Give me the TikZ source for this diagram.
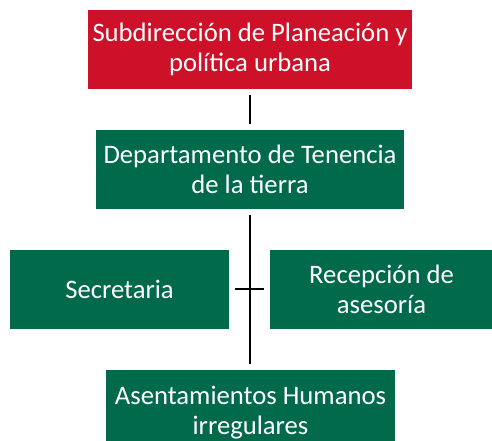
\documentclass[tikz,border=0pt]{standalone}
\usepackage{fontspec}
\setmainfont{Carlito}
\usepackage{xcolor}
\usetikzlibrary{positioning}
\definecolor{rojo}{HTML}{CC1128}
\definecolor{verde}{HTML}{006A4A}
\tikzset{
	box/.style={rectangle,fill=verde,text=white,align=center,inner sep=0pt,
		font=\fontsize{20}{22.5}\selectfont},
	top box/.style={box,fill=rojo},
	link/.style={line width=1.5pt,shorten >=4.5pt,shorten <=4.5pt}
}
\begin{document}
\begin{tikzpicture}[x=0.75pt,y=-0.75pt]
		\useasboundingbox (0,0) rectangle (492,441);
		\node [top box,minimum width=243pt,minimum height=59.25pt] (subdir) at (250,49.5)
			{Subdirección de Planeación y\\política urbana};
		\node [box,minimum width=231pt,minimum height=59.25pt] (tenencia) at (250,169.5)
			{Departamento de Tenencia\\de la tierra};
		\node [box,minimum width=164.25pt,minimum height=59.25pt] (secre) at (119.5,289.5)
			{Secretaria};
		\node [box,minimum width=167.25pt,minimum height=59.25pt] (recep) at (381.5,289.5)
			{Recepción de\\asesoría};
		\node [box,minimum width=216.75pt,minimum height=64.5pt] (asent) at (250.5,413)
			{Asentamientos Humanos\\irregulares};
		\draw [link] (subdir) -- (tenencia);
		\draw [link] (tenencia) -- (asent.north -| tenencia.south);
		\draw [link] (secre) -- (recep);
\end{tikzpicture}
\end{document}
